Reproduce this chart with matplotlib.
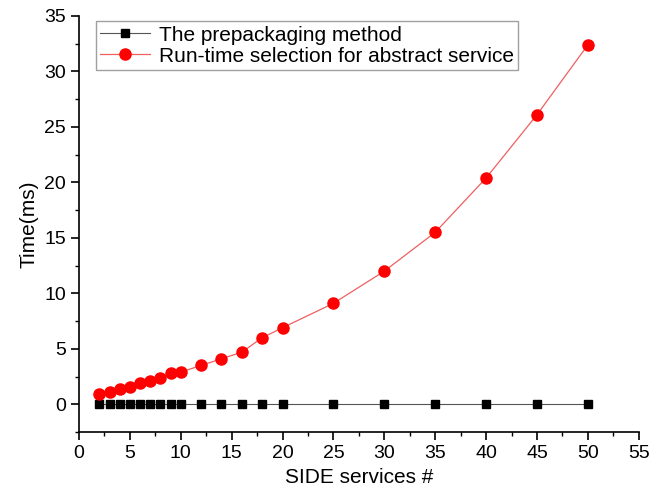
import matplotlib
matplotlib.use("Agg")
import matplotlib.pyplot as plt
from matplotlib.ticker import MultipleLocator

plt.rcParams['font.family'] = ['Liberation Sans', 'DejaVu Sans']

services = [2, 3, 4, 5, 6, 7, 8, 9, 10, 12, 14, 16, 18, 20, 25, 30, 35, 40, 45, 50]
prepackaging = [0, 0, 0, 0, 0, 0, 0, 0, 0, 0, 0, 0, 0, 0, 0, 0, 0, 0, 0, 0]
runtime_selection = [0.9, 1.1, 1.4, 1.6, 1.9, 2.1, 2.4, 2.8, 2.9, 3.5, 4.1, 4.7,
                     6.0, 6.9, 9.1, 12.0, 15.5, 20.4, 26.1, 32.4]

fig = plt.figure(figsize=(6.64, 5.0), dpi=100)
ax = fig.add_axes([0.119, 0.136, 0.843, 0.832])

ax.plot(services, prepackaging, color='#555555', lw=0.8, marker='s', ms=6.3,
        mfc='black', mec='black', label='The prepackaging method')
ax.plot(services, runtime_selection, color='#ee6060', lw=0.9, marker='o', ms=8,
        mfc='red', mec='red', label='Run-time selection for abstract service')

ax.set_xlim(0, 55)
ax.set_ylim(-2.5, 35)
ax.xaxis.set_major_locator(MultipleLocator(5))
ax.xaxis.set_minor_locator(MultipleLocator(2.5))
ax.yaxis.set_major_locator(MultipleLocator(5))
ax.yaxis.set_minor_locator(MultipleLocator(2.5))
ax.spines['top'].set_visible(False)
ax.spines['right'].set_visible(False)
for s in ('left', 'bottom'):
    ax.spines[s].set_linewidth(1.2)
ax.tick_params(which='major', direction='out', length=6, width=1.2, labelsize=14)
ax.tick_params(which='minor', direction='out', length=3, width=1.0)

ax.set_xlabel('SIDE services #', fontsize=15)
ax.set_ylabel('Time(ms)', fontsize=15)

leg = ax.legend(loc='upper left', bbox_to_anchor=(0.012, 1.012), fontsize=15,
                frameon=True, fancybox=False, edgecolor='#888888',
                handlelength=2.4, borderpad=0.2, labelspacing=0.1,
                handletextpad=0.4)
leg.get_frame().set_linewidth(1.0)

fig.savefig('out.png', dpi=100)
